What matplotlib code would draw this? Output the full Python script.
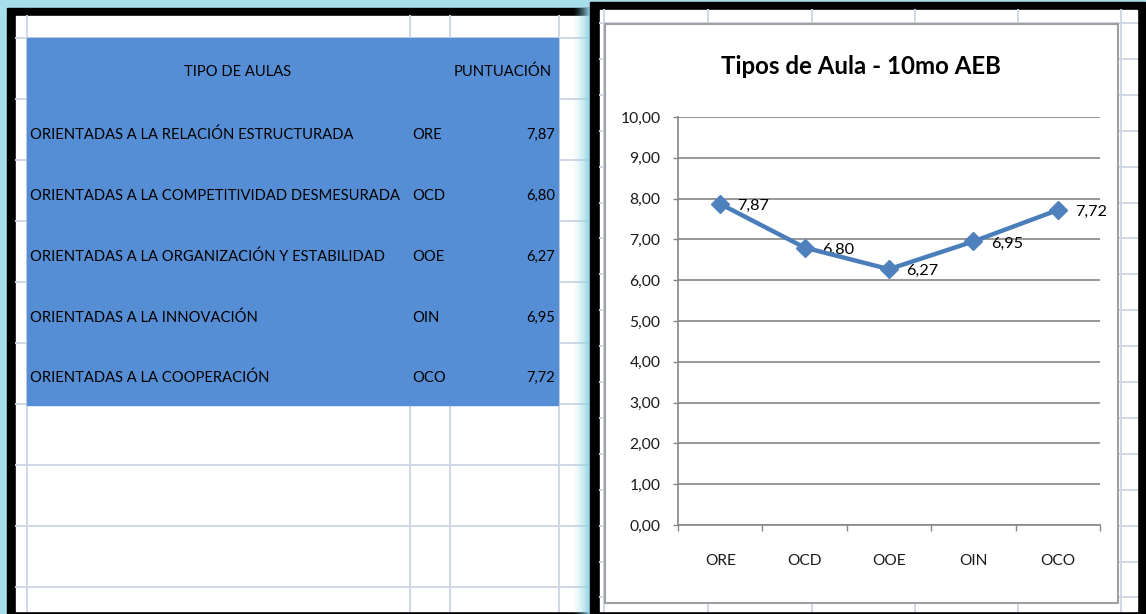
import numpy as np
import matplotlib
import matplotlib.pyplot as plt
from matplotlib.patches import Rectangle
from matplotlib import font_manager

matplotlib.use('Agg')

# datos de la tabla / grafico
tipos = [
    "ORIENTADAS A LA RELACIÓN ESTRUCTURADA",
    "ORIENTADAS A LA COMPETITIVIDAD DESMESURADA",
    "ORIENTADAS A LA ORGANIZACIÓN Y ESTABILIDAD",
    "ORIENTADAS A LA INNOVACIÓN",
    "ORIENTADAS A LA COOPERACIÓN",
]
codigos = ["ORE", "OCD", "OOE", "OIN", "OCO"]
puntuacion = [7.87, 6.80, 6.27, 6.95, 7.72]
encabezados = ["TIPO DE AULAS", "PUNTUACIÓN"]
titulo = "Tipos de Aula - 10mo AEB"
y_ticks = list(range(0, 11))

W, H = 1146, 614
CYAN = '#a8deeb'
GRID = '#d0d7e5'

installed = {f.name for f in font_manager.fontManager.ttflist}
NARROW = 'Liberation Sans Narrow' if 'Liberation Sans Narrow' in installed else 'Lato'
CHART = 'Lato' if 'Lato' in installed else 'DejaVu Sans'


def coma(v):
    return f"{v:.2f}".replace('.', ',')


def size_for(fig, s, family, target_px, weight='normal', base=20.0):
    # tamaño de letra para que el texto ocupe target_px de ancho
    t = fig.text(0, 0, s, family=family, fontsize=base, fontweight=weight)
    w = t.get_window_extent(renderer=fig.canvas.get_renderer()).width
    t.remove()
    return base * target_px / w


def main():
    fig = plt.figure(figsize=(W / 100, H / 100), dpi=100)
    fig.patch.set_facecolor(CYAN)
    bg = fig.add_axes([0, 0, 1, 1])
    bg.set_xlim(0, W)
    bg.set_ylim(H, 0)
    bg.axis('off')

    fs_tabla = size_for(fig, tipos[1], NARROW, 368)
    fs_titulo = size_for(fig, titulo, CHART, 280, weight='bold')
    fs_ticks = size_for(fig, "10,00", CHART, 40)
    fs_etq = size_for(fig, "7,87", CHART, 32)
    fs_cat = size_for(fig, "ORE", CHART, 31)

    # panel izquierdo (hoja con tabla)
    bg.add_patch(Rectangle((7, 8), 583, 606, color='black', zorder=1))
    bg.add_patch(Rectangle((16, 16), 574, 595, color='white', zorder=2))
    for gx in [27, 410, 450, 559]:
        bg.plot([gx, gx], [16, 611], color=GRID, lw=1.4, zorder=3)
    for gy in [38 + 61 * k for k in range(10)]:
        bg.plot([16, 590], [gy, gy], color=GRID, lw=1.4, zorder=3)
    bg.add_patch(Rectangle((27, 38), 531, 367, color='#558ed5', zorder=4))

    # degradado cian entre paneles
    ramp = np.zeros((2, 64, 4))
    ramp[..., :3] = matplotlib.colors.to_rgb('#8fd3e6')
    ramp[..., 3] = np.linspace(0, 1, 64) ** 1.5
    bg.imshow(ramp, extent=(572, 590, 614, 8), aspect='auto', zorder=9,
              interpolation='bilinear')

    # texto de la tabla
    row_y = [72, 135, 196, 257, 318, 378]
    bg.text(238, row_y[0], encabezados[0], family=NARROW, fontsize=fs_tabla,
            ha='center', va='center', zorder=6)
    bg.text(503, row_y[0], encabezados[1], family=NARROW, fontsize=fs_tabla,
            ha='center', va='center', zorder=6)
    for i in range(len(tipos)):
        yy = row_y[i + 1]
        bg.text(30, yy, tipos[i], family=NARROW, fontsize=fs_tabla,
                ha='left', va='center', zorder=6)
        bg.text(412, yy, codigos[i], family=NARROW, fontsize=fs_tabla,
                ha='left', va='center', zorder=6)
        bg.text(555, yy, coma(puntuacion[i]), family=NARROW, fontsize=fs_tabla,
                ha='right', va='center', zorder=6)

    # panel derecho (grafico)
    bg.add_patch(Rectangle((590, 2), 555, 612, color='black', zorder=10))
    bg.add_patch(Rectangle((600, 10), 537, 601, color='white', zorder=11))
    for gx in [604, 708, 812, 915, 1018, 1121]:
        bg.plot([gx, gx], [10, 611], color=GRID, lw=1.4, zorder=12)
    for gy in np.arange(23, 611, 35.9):
        bg.plot([600, 1137], [gy, gy], color=GRID, lw=1.4, zorder=12)
    bg.add_patch(Rectangle((605, 24), 513, 579, facecolor='white',
                           edgecolor='#a0a0a0', lw=1.5, zorder=13))
    bg.text(861, 67, titulo, family=CHART, fontsize=fs_titulo, fontweight='bold',
            ha='center', va='center', zorder=14)

    ax = fig.add_axes([678 / W, 1 - 525 / H, 422 / W, 408 / H])
    ax.set_facecolor('none')
    x = np.arange(len(codigos)) + 0.5
    ax.plot(x, puntuacion, color='#4a7ebb', lw=3.2, marker='D', markersize=9,
            markerfacecolor='#4f81bd', markeredgecolor='#4f81bd', zorder=5,
            clip_on=False)
    for xi, v in zip(x, puntuacion):
        ax.annotate(coma(v), (xi, v), xytext=(12.5, -1.5), textcoords='offset points',
                    ha='left', va='center', family=CHART, fontsize=fs_etq,
                    color='black')

    ax.set_xlim(0, len(codigos))
    ax.set_ylim(0, 10)
    ax.set_yticks(y_ticks)
    ax.set_yticklabels([coma(t) for t in y_ticks], family=CHART, fontsize=fs_ticks,
                       color='#1a1a1a')
    ax.set_xticks(np.arange(len(codigos) + 1))
    ax.set_xticklabels([])
    ax.set_xticks(x, codigos, minor=True, family=CHART, fontsize=fs_cat,
                  color='#1a1a1a')
    ax.tick_params(axis='x', which='major', length=4.5, width=1, color='#868686',
                   direction='out')
    ax.tick_params(axis='x', which='minor', length=0, pad=21)
    ax.tick_params(axis='y', length=3.6, width=1, color='#868686', pad=9)
    ax.yaxis.grid(True, color='#868686', lw=1.2)
    ax.set_axisbelow(True)
    for s in ['top', 'right']:
        ax.spines[s].set_visible(False)
    for s in ['left', 'bottom']:
        ax.spines[s].set_color('#868686')
        ax.spines[s].set_linewidth(1.2)

    plt.savefig('out.png', dpi=100)
    plt.close()


if __name__ == '__main__':
    main()
